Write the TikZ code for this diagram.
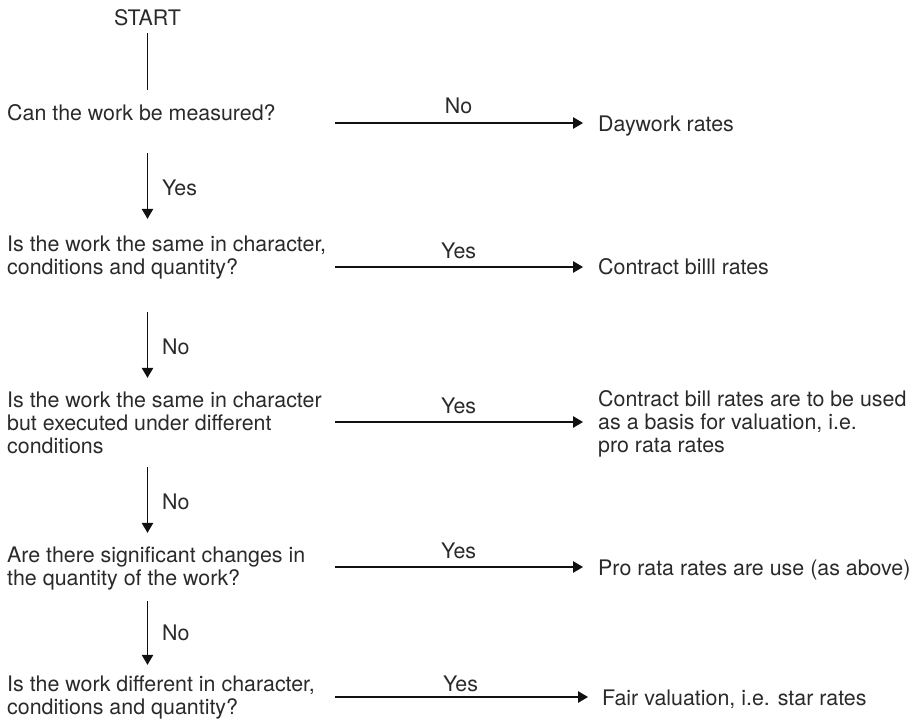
\documentclass[tikz,border=0pt]{standalone}
\usepackage{fontspec}
\setmainfont{TeX Gyre Heros}
\usetikzlibrary{arrows.meta}
\definecolor{ink}{HTML}{2A2A2A}
\definecolor{lineink}{HTML}{111111}
\begin{document}
\begin{tikzpicture}[x=1pt,y=-1pt,
  txt/.style={inner sep=0pt, anchor=west, align=left, text=ink, font=\fontsize{21.4}{23}\selectfont},
  lbl/.style={inner sep=0pt, text=ink, font=\fontsize{21.4}{23}\selectfont},
  ln/.style={draw=lineink, line width=1.2pt},
  arr/.style={ln, -{Triangle[length=10pt,width=11.5pt]}}]
\useasboundingbox (0,0) rectangle (914,723);
% left column
\node[txt, anchor=center] (start) at (147.5,20.9) {\strut START};
\node[txt] (q1) at (7,115.9) {\strut Can the work be measured?};
\node[txt] (q2) at (7,257.9) {\strut Is the work the same in character,\\\strut conditions and quantity?};
\node[txt] (q3) at (7,425.4) {\strut Is the work the same in character\\\strut but executed under different\\\strut conditions};
\node[txt] (q4) at (7,569.4) {\strut Are there significant changes in\\\strut the quantity of the work?};
\node[txt] (q5) at (7,698.4) {\strut Is the work different in character,\\\strut conditions and quantity?};
% right column
\node[txt] (r1) at (598,126.9) {\strut Daywork rates};
\node[txt] (r2) at (598,269.9) {\strut Contract billl rates};
\node[txt] (r3) at (598,424.9) {\strut Contract bill rates are to be used\\\strut as a basis for valuation, i.e.\\\strut pro rata rates};
\node[txt] (r4) at (598,570.9) {\strut Pro rata rates are use (as above)};
\node[txt] (r5) at (602,700.9) {\strut Fair valuation, i.e. star rates};
% arrow start points
\coordinate (h1) at (335,123);
\coordinate (h2) at (335,267);
\coordinate (h3) at (335,422);
\coordinate (h4) at (335,567);
\coordinate (h5) at (335,697);
% vertical connectors
\draw[ln, shorten <=0.6pt, shorten >=14.4pt] (start.south) -- (start.south |- q1.north);
\draw[arr, shorten <=25.6pt, shorten >=15.9pt] (q1.south -| start) -- (q2.north -| start)
  node[lbl, pos=0.564, right=14pt] {Yes};
\draw[arr, shorten <=31.1pt, shorten >=12.9pt] (q2.south -| start) -- (q3.north -| start)
  node[lbl, pos=0.601, right=14pt] {No};
\draw[arr, shorten <=7.1pt, shorten >=13.4pt] (q3.south -| start) -- (q4.north -| start)
  node[lbl, pos=0.487, right=14pt] {No};
\draw[arr, shorten <=8.6pt, shorten >=10.4pt] (q4.south -| start) -- (q5.north -| start)
  node[lbl, pos=0.489, right=14pt] {No};
% horizontal connectors
\draw[arr, shorten >=15pt] (h1) -- (h1 -| r1.west) node[lbl, pos=0.47, above=8.5pt] {No};
\draw[arr, shorten >=15pt] (h2) -- (h2 -| r2.west) node[lbl, pos=0.47, above=7.5pt] {Yes};
\draw[arr, shorten >=15pt] (h3) -- (h3 -| r3.west) node[lbl, pos=0.47, above=7.5pt] {Yes};
\draw[arr, shorten >=15pt] (h4) -- (h4 -| r4.west) node[lbl, pos=0.47, above=7.5pt] {Yes};
\draw[arr, shorten >=14pt] (h5) -- (h5 -| r5.west) node[lbl, pos=0.47, above=4.5pt] {Yes};
\end{tikzpicture}
\end{document}
